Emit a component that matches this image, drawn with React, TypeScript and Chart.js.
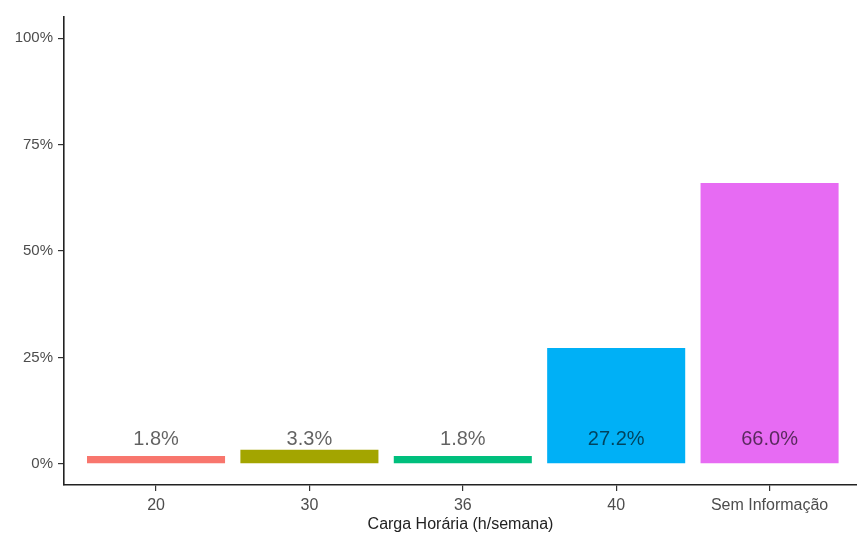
import React, { useEffect, useRef } from "react";
import { Chart, registerables } from "chart.js";

Chart.register(...registerables);

const categories = ["20", "30", "36", "40", "Sem Informação"];
const percentages = [1.8, 3.3, 1.8, 27.2, 66.0];
const barColors = ["#F8766D", "#A3A500", "#00BF7D", "#00B0F6", "#E76BF3"];
const yTickValues = [0, 25, 50, 75, 100];
const xTitle = "Carga Horária (h/semana)";

const FONT = "'Liberation Sans', Arial, sans-serif";

export default function App() {
  const ref = useRef<HTMLCanvasElement | null>(null);

  useEffect(() => {
    if (!ref.current) return;
    const labelPlugin = {
      id: "barLabels",
      afterDatasetsDraw(chart: any) {
        const ctx = chart.ctx;
        const xs = chart.scales.x;
        const ys = chart.scales.y;
        ctx.save();
        ctx.font = `20px ${FONT}`;
        ctx.fillStyle = "rgba(0,0,0,0.62)";
        ctx.textAlign = "center";
        ctx.textBaseline = "middle";
        percentages.forEach((v, i) => {
          const x = xs.getPixelForValue(i + 1);
          const y = ys.getPixelForValue(5.7);
          ctx.fillText(v.toFixed(1) + "%", x, y);
        });
        ctx.restore();
      },
    };

    const chart = new Chart(ref.current, {
      type: "bar",
      data: {
        datasets: [
          {
            data: percentages.map((v, i) => ({ x: i + 1, y: v })),
            backgroundColor: barColors,
            borderWidth: 0,
            barPercentage: 0.9,
            categoryPercentage: 1,
          },
        ],
      },
      options: {
        responsive: false,
        animation: false,
        layout: { padding: { top: 17, right: 0, left: 0, bottom: 0 } },
        plugins: {
          legend: { display: false },
          tooltip: { enabled: false },
        },
        scales: {
          x: {
            type: "linear",
            offset: false,
            min: 0.4,
            max: 5.57,
            afterBuildTicks(scale: any) {
              scale.ticks = categories.map((_, i) => ({ value: i + 1 }));
            },
            afterFit(scale: any) {
              scale.height = 51;
            },
            ticks: {
              autoSkip: false,
              maxRotation: 0,
              padding: 5,
              color: "#4d4d4d",
              font: { family: FONT, size: 16 },
              callback: (v: any) => categories[Math.round(Number(v)) - 1] ?? "",
            },
            grid: {
              offset: false,
              drawOnChartArea: false,
              drawTicks: true,
              tickLength: 6,
              color: "#333",
              lineWidth: 1.2,
            },
            border: { display: true, color: "#222", width: 1.6 },
            title: {
              display: true,
              text: xTitle,
              color: "#222",
              font: { family: FONT, size: 16 },
              padding: { top: 0, bottom: 2 },
            },
          },
          y: {
            type: "linear",
            min: -5,
            max: 105,
            afterBuildTicks(scale: any) {
              scale.ticks = yTickValues.map((v) => ({ value: v }));
            },
            afterFit(scale: any) {
              scale.width = 64;
            },
            ticks: {
              padding: 5,
              color: "#4d4d4d",
              font: { family: FONT, size: 15 },
              callback: (v: any) => `${v}%`,
            },
            grid: {
              drawOnChartArea: false,
              drawTicks: true,
              tickLength: 6,
              color: "#333",
              lineWidth: 1.2,
            },
            border: { display: true, color: "#222", width: 1.6 },
          },
        },
      },
      plugins: [labelPlugin],
    } as any);
    return () => chart.destroy();
  }, []);

  return (
    <div style={{ position: "absolute", left: 0, top: 0, width: 857, height: 536, background: "#fff" }}>
      <canvas ref={ref} width={857} height={536} style={{ width: 857, height: 536, display: "block" }} />
    </div>
  );
}
